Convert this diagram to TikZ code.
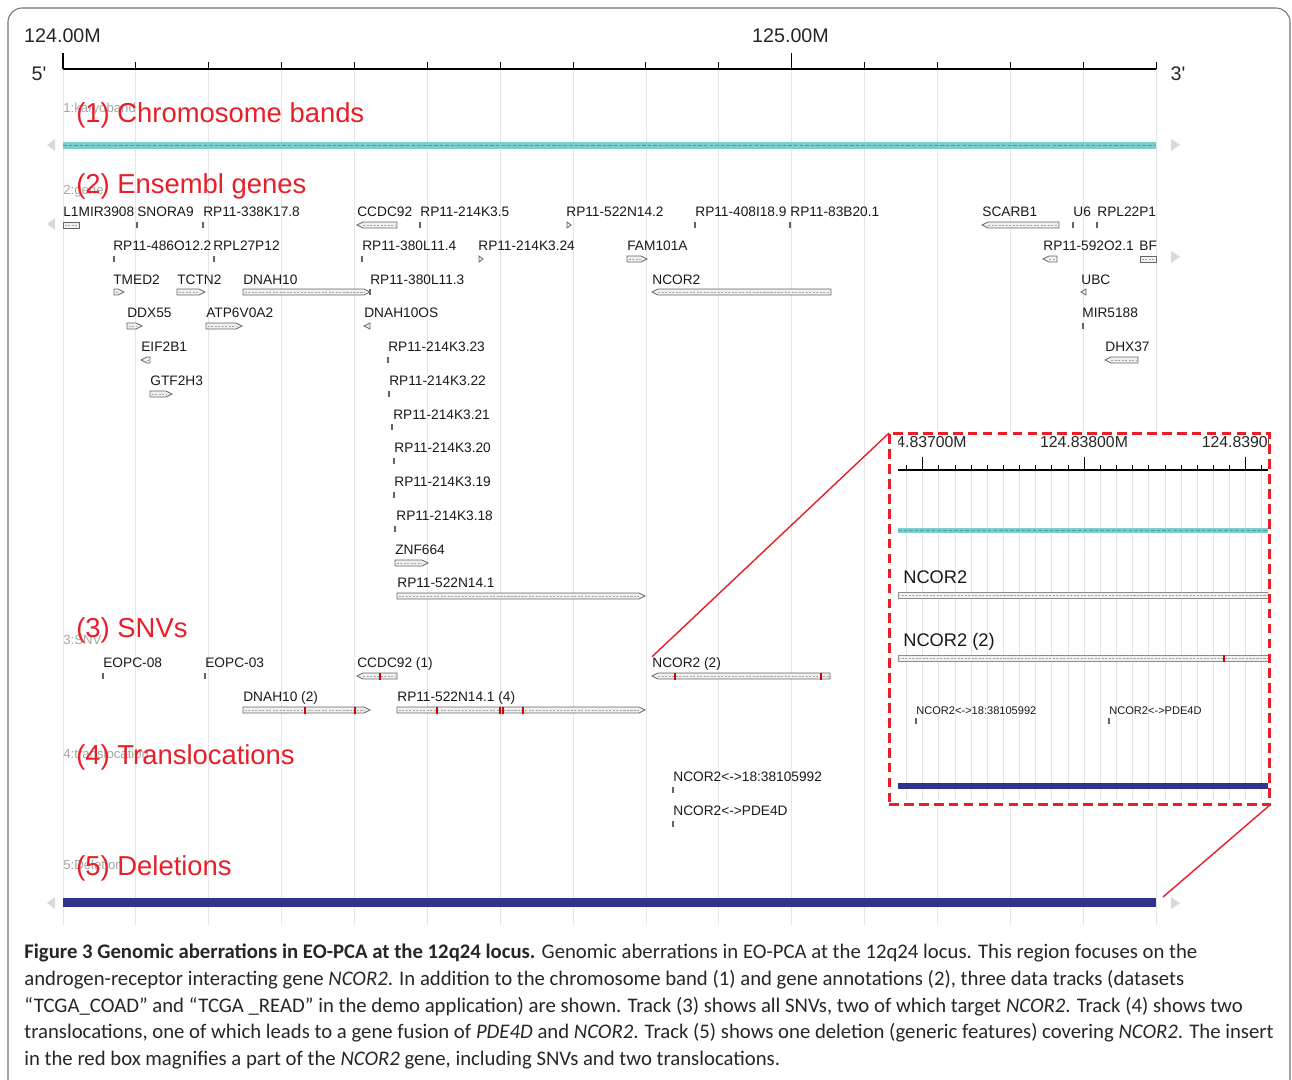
\documentclass[tikz,border=0pt]{standalone}
\usepackage{fontspec}
\setmainfont{Liberation Sans}
\newfontfamily\capfont{Carlito}
\usetikzlibrary{positioning}

\definecolor{annred}{RGB}{232,30,40}
\definecolor{bandcyan}{RGB}{125,205,205}
\definecolor{banddash}{RGB}{70,160,165}
\definecolor{delblue}{RGB}{48,52,140}

\tikzset{
  gridln/.style={draw=black!10, line width=0.5pt},
  genebox/.style={draw=black!60, fill=black!6, line width=0.45pt},
  genemid/.style={draw=black!35, dash pattern=on 1.2pt off 0.8pt, line width=0.3pt},
  gtick/.style={draw=black!60, line width=0.6pt},
  snvmark/.style={draw=red!85!black, line width=0.8pt},
  glabel/.style={font=\fontsize{7.8}{8}\selectfont, anchor=base west, inner sep=0pt, text=black!90},
  tracklbl/.style={font=\fontsize{15.6}{16}\selectfont, anchor=base west, inner sep=0pt, text=annred},
  trackid/.style={font=\fontsize{7.5}{8}\selectfont, anchor=base west, inner sep=0pt, text=black!35},
  axlbl/.style={font=\fontsize{11.2}{12}\selectfont, anchor=base, inner sep=0pt, text=black!85},
  navtri/.style={fill=black!15, draw=none},
  caption/.style={font=\capfont\fontsize{11.8}{13}\selectfont, anchor=base west, inner sep=0pt, text=black!85},
  zoomln/.style={draw=annred, line width=0.8pt}
}

% gene glyphs: x1, x2, y
\newcommand{\genefwd}[3]{%
  \pgfmathsetmacro{\gtp}{min(6,#2-#1)}%
  \draw[genebox] (#1,#3-3) -- (#2-\gtp,#3-3) -- (#2,#3) -- (#2-\gtp,#3+3) -- (#1,#3+3) -- cycle;
  \ifdim\gtp pt>5pt \draw[genemid] (#1+1.5,#3) -- (#2-\gtp,#3);\fi}
\newcommand{\generev}[3]{%
  \pgfmathsetmacro{\gtp}{min(6,#2-#1)}%
  \draw[genebox] (#1,#3) -- (#1+\gtp,#3-3) -- (#2,#3-3) -- (#2,#3+3) -- (#1+\gtp,#3+3) -- cycle;
  \ifdim\gtp pt>5pt \draw[genemid] (#1+\gtp,#3) -- (#2-1.5,#3);\fi}
\newcommand{\geneplain}[3]{%
  \draw[genebox] (#1,#3-3) rectangle (#2,#3+3);
  \draw[genemid] (#1+1.5,#3) -- (#2-1.5,#3);}
\newcommand{\gtick}[2]{\draw[gtick] (#1,#2-3) -- (#1,#2+3);}
\newcommand{\snv}[2]{\draw[snvmark] (#1,#2-3.5) -- (#1,#2+3.5);}

\begin{document}
\begin{tikzpicture}[x=0.02cm, y=-0.02cm]
  \useasboundingbox (0,0) rectangle (1292,1079);
  \draw[black!55, line width=0.6pt, rounded corners=8] (8,1090) -- (8,8) -- (1290,8) -- (1290,1090);

  % scale
  \foreach \k in {0,...,15}
    \draw[gridln] ({63+72.87*\k},69) -- ({63+72.87*\k},925);
  \draw[line width=0.7pt] (63,69) -- (1156,69);
  \foreach \k in {1,...,9,11,12,13,14,15}
    \draw[line width=0.6pt] ({63+72.87*\k},69) -- ++(0,-7);
  \draw[line width=0.6pt] (63,69) -- ++(0,-16);
  \draw[line width=0.6pt] (791.7,69) -- ++(0,-16);
  \node[axlbl] (m124) at (62.5,42) {124.00M};
  \node[axlbl] (m125) at (790.5,42) {125.00M};
  \node[axlbl] (five) at (39,80) {5\textquotesingle};
  \node[axlbl] (three) at (1178,80) {3\textquotesingle};

  % (1) bands
  \node[trackid] (id1) at (63,112) {1:karyoband};
  \node[tracklbl] (t1) at (76,122) {(1) Chromosome bands};
  \fill[bandcyan] (63,141.5) rectangle (1156,148.5);
  \draw[banddash, dash pattern=on 2pt off 1.2pt, line width=0.4pt] (63,145) -- (1156,145);
  \fill[navtri] (47,145) -- (55,139) -- (55,151) -- cycle;
  \fill[navtri] (1180,145) -- (1171,139) -- (1171,151) -- cycle;

  % (2) genes
  \node[trackid] (id2) at (63,194) {2:gene};
  \node[tracklbl] (t2) at (76,193) {(2) Ensembl genes};
  \fill[navtri] (47,224) -- (55,218) -- (55,230) -- cycle;
  \fill[navtri] (1180,257) -- (1171,251) -- (1171,263) -- cycle;

  \node[glabel] (l1mir) at (63,216) {L1MIR3908};      \geneplain{63}{79}{225}
  \node[glabel] (snora) at (137,216) {SNORA9};        \gtick{137}{225}
  \node[glabel] (rp338) at (203,216) {RP11-338K17.8}; \gtick{203}{225}
  \node[glabel] (ccdc) at (357,216) {CCDC92};         \generev{357}{397}{225}
  \node[glabel] (rp5) at (420,216) {RP11-214K3.5};    \gtick{420}{225}
  \node[glabel] (rp522b) at (566,216) {RP11-522N14.2}; \genefwd{567}{571}{225}
  \node[glabel] (rp408) at (695,216) {RP11-408I18.9}; \gtick{695}{225}
  \node[glabel] (rp83) at (790,216) {RP11-83B20.1};   \gtick{790}{225}
  \node[glabel] (scarb) at (982,216) {SCARB1};        \generev{982}{1059}{225}
  \node[glabel] (u6) at (1073,216) {U6};              \gtick{1073}{225}
  \node[glabel] (rpl22) at (1097,216) {RPL22P1};      \gtick{1097}{225}

  \node[glabel] (rp486) at (113,250) {RP11-486O12.2}; \gtick{114}{259}
  \node[glabel] (rpl27) at (213,250) {RPL27P12};      \gtick{214}{259}
  \node[glabel] (rp380a) at (362,250) {RP11-380L11.4}; \gtick{362}{259}
  \node[glabel] (rp24) at (478,250) {RP11-214K3.24};  \genefwd{479}{483}{259}
  \node[glabel] (fam) at (627,250) {FAM101A};         \genefwd{627}{647}{259}
  \node[glabel] (rp592) at (1043,250) {RP11-592O2.1}; \generev{1043}{1057}{259}
  \node[glabel] (bf) at (1139,250) {BF};              \geneplain{1140}{1156}{259}

  \node[glabel] (tmed) at (113,284) {TMED2};          \genefwd{114}{124}{292}
  \node[glabel] (tctn) at (177,284) {TCTN2};          \genefwd{177}{205}{292}
  \node[glabel] (dnah) at (243,284) {DNAH10};         \genefwd{243}{370}{292}
  \node[glabel] (rp380b) at (370,284) {RP11-380L11.3}; \gtick{370}{292}
  \node[glabel] (ncor) at (652,284) {NCOR2};          \generev{652}{831}{292}
  \node[glabel] (ubc) at (1081,284) {UBC};            \generev{1081}{1086}{292}

  \node[glabel] (ddx) at (127,317) {DDX55};           \genefwd{127}{142}{326}
  \node[glabel] (atp) at (206,317) {ATP6V0A2};        \genefwd{206}{242}{326}
  \node[glabel] (dnahos) at (364,317) {DNAH10OS};     \generev{364}{370}{326}
  \node[glabel] (mir) at (1082,317) {MIR5188};        \gtick{1083}{326}

  \node[glabel] (eif) at (141,351) {EIF2B1};          \generev{141}{150}{360}
  \node[glabel] (rp23) at (388,351) {RP11-214K3.23};  \gtick{388}{360}
  \node[glabel] (dhx) at (1105,351) {DHX37};          \generev{1105}{1138}{360}

  \node[glabel] (gtf) at (150,385) {GTF2H3};          \genefwd{150}{172}{394}
  \node[glabel] (rp22) at (389,385) {RP11-214K3.22};  \gtick{389}{394}
  \node[glabel] (rp21) at (393,419) {RP11-214K3.21};  \gtick{392}{427}
  \node[glabel] (rp20) at (394,452) {RP11-214K3.20};  \gtick{394}{461}
  \node[glabel] (rp19) at (394,486) {RP11-214K3.19};  \gtick{394}{495}
  \node[glabel] (rp18) at (396,520) {RP11-214K3.18};  \gtick{395}{529}
  \node[glabel] (znf) at (395,554) {ZNF664};          \genefwd{395}{428}{563}
  \node[glabel] (rp522a) at (397,587) {RP11-522N14.1}; \genefwd{397}{645}{596}

  % (3) SNVs
  \node[trackid] (id3) at (63,644) {3:SNV};
  \node[tracklbl] (t3) at (76,637) {(3) SNVs};
  \node[glabel] (eopc8) at (103,667) {EOPC-08};       \gtick{103}{676}
  \node[glabel] (eopc3) at (205,667) {EOPC-03};       \gtick{205}{676}
  \node[glabel] (snvccdc) at (357,667) {CCDC92 (1)};  \generev{357}{397}{676}
  \snv{380}{676}
  \node[glabel] (snvncor) at (652,667) {NCOR2 (2)};   \generev{652}{830}{676}
  \snv{675}{676} \snv{821}{676}
  \node[glabel] (snvdnah) at (243,701) {DNAH10 (2)};  \genefwd{243}{370}{710}
  \snv{305}{710} \snv{355}{710}
  \node[glabel] (snvrp) at (397,701) {RP11-522N14.1 (4)}; \genefwd{397}{645}{710}
  \snv{437}{710} \snv{500}{710} \snv{503}{710} \snv{523}{710}

  % (4) translocations
  \node[trackid] (id4) at (63,758) {4:translocation};
  \node[tracklbl] (t4) at (76,764) {(4) Translocations};
  \node[glabel] (tr18) at (673,781) {NCOR2<->18:38105992}; \gtick{673}{790}
  \node[glabel] (trpde) at (673,815) {NCOR2<->PDE4D};      \gtick{673}{824}

  % (5) deletions
  \node[trackid] (id5) at (63,869) {5:Deletion};
  \node[tracklbl] (t5) at (76,875) {(5) Deletions};
  \fill[delblue] (63,898) rectangle (1156,907);
  \fill[navtri] (47,903) -- (55,897) -- (55,909) -- cycle;
  \fill[navtri] (1180,903) -- (1171,897) -- (1171,909) -- cycle;
  \coordinate (delend) at (1163,897);

  % insert
  \fill[white] (889,433) rectangle (1270,805);
  \begin{scope}
    \clip (898,425) rectangle (1268,805);
    \foreach \k in {-1,...,21}
      \draw[gridln] ({922.7+16.15*\k},470) -- ++(0,330);
    \draw[line width=0.6pt] (898,470) -- (1268,470);
    \foreach \k in {-1,...,21}
      \draw[line width=0.5pt] ({922.7+16.15*\k},470) -- ++(0,-5);
    \foreach \k in {0,10,20}
      \draw[line width=0.5pt] ({922.7+16.15*\k},470) -- ++(0,-13);
    \node[axlbl, font=\fontsize{9}{10}\selectfont] (z837) at (922.7,447) {124.83700M};
    \node[axlbl, font=\fontsize{9}{10}\selectfont] (z838) at (1084,447) {124.83800M};
    \node[axlbl, font=\fontsize{9}{10}\selectfont] (z839) at (1245.7,447) {124.83900M};
    \fill[bandcyan] (898,527.5) rectangle (1268,532.5);
    \draw[banddash, dash pattern=on 2pt off 1.2pt, line width=0.4pt] (898,530) -- (1268,530);
    \node[glabel, font=\fontsize{10.4}{11}\selectfont] (zncor) at (903,583) {NCOR2};
    \draw[genebox, draw=black!45] (898,592) rectangle (1272,598);
    \draw[genemid] (898,595) -- (1272,595);
    \node[glabel, font=\fontsize{10.4}{11}\selectfont] (zsnv) at (903,646) {NCOR2 (2)};
    \draw[genebox, draw=black!45] (898,655) rectangle (1272,661);
    \draw[genemid] (898,658) -- (1272,658);
    \snv{1224}{658}
    \node[glabel, font=\fontsize{6.3}{7}\selectfont] (ztr18) at (916,714.5) {NCOR2<->18:38105992};
    \gtick{916}{721}
    \node[glabel, font=\fontsize{6.3}{7}\selectfont] (ztrpde) at (1109,714.5) {NCOR2<->PDE4D};
    \gtick{1109}{721}
    \fill[delblue] (898,783) rectangle (1272,789);
  \end{scope}
  \node[draw=annred, line width=1.7pt, dash pattern=on 5.5pt off 3pt, inner sep=0pt, outer sep=0pt,
        minimum width=7.62cm, minimum height=7.44cm] (zoombox) at (1079.5,619) {};
  \draw[zoomln] (snvncor.north west) -- (zoombox.north west);
  \draw[zoomln] (delend) -- (zoombox.south east);

  % caption
  \node[caption] (cap1) at (24,958) {\textbf{Figure 3 Genomic aberrations in EO-PCA at the 12q24 locus.} Genomic aberrations in EO-PCA at the 12q24 locus. This region focuses on the};
  \node[caption] (cap2) at (24,985) {androgen-receptor interacting gene \textit{NCOR2}. In addition to the chromosome band (1) and gene annotations (2), three data tracks (datasets};
  \node[caption] (cap3) at (24,1012) {“TCGA\_COAD” and “TCGA \_READ” in the demo application) are shown. Track (3) shows all SNVs, two of which target \textit{NCOR2}. Track (4) shows two};
  \node[caption] (cap4) at (24,1038) {translocations, one of which leads to a gene fusion of \textit{PDE4D} and \textit{NCOR2}. Track (5) shows one deletion (generic features) covering \textit{NCOR2}. The insert};
  \node[caption] (cap5) at (24,1065) {in the red box magnifies a part of the \textit{NCOR2} gene, including SNVs and two translocations.};
\end{tikzpicture}
\end{document}
